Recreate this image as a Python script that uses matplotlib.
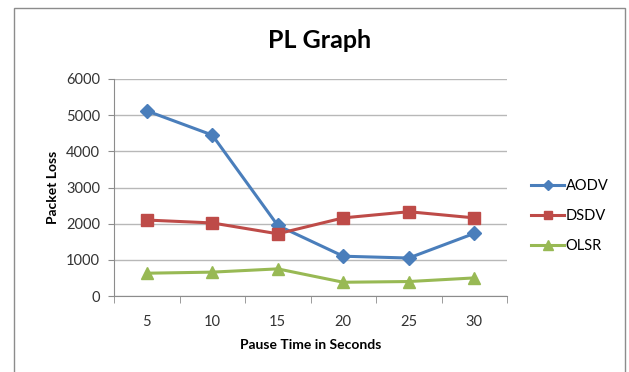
import numpy as np
import matplotlib
matplotlib.use("Agg")
import matplotlib.pyplot as plt
from matplotlib.patches import Rectangle

plt.rcParams["font.family"] = ["Lato", "DejaVu Sans"]

pause_times = [5, 10, 15, 20, 25, 30]
aodv = [5120, 4450, 1950, 1100, 1050, 1730]
dsdv = [2100, 2020, 1720, 2160, 2330, 2160]
olsr = [630, 660, 750, 380, 400, 500]
y_ticks = [0, 1000, 2000, 3000, 4000, 5000, 6000]

fig = plt.figure(figsize=(6.29, 3.72), dpi=100)
fig.patch.set_facecolor("white")
# outer chart frame
fig.add_artist(Rectangle((14 / 629, -0.05), (625 - 14) / 629, 1.05 - 8 / 372,
                         transform=fig.transFigure, fill=False,
                         edgecolor="#8c8c8c", linewidth=1.0))

ax = fig.add_axes([114 / 629, 1 - 296 / 372, (507 - 114) / 629, (296 - 79) / 372])
x = np.arange(len(pause_times))

series = [
    ("AODV", aodv, "#4a7ebb", "D", 7),
    ("DSDV", dsdv, "#be4b48", "s", 8),
    ("OLSR", olsr, "#98b954", "^", 9),
]
for name, vals, color, marker, ms in series:
    ax.plot(x, vals, color=color, linewidth=2.2, marker=marker, markersize=ms,
            markeredgecolor=color, label=name, zorder=3)

ax.set_xlim(-0.5, len(pause_times) - 0.5)
ax.set_ylim(0, 6000)
ax.set_yticks(y_ticks)
ax.set_yticklabels([str(v) for v in y_ticks], fontsize=10.5, color="#333333")
ax.set_xticks(x)
ax.set_xticklabels([str(p) for p in pause_times], fontsize=10.5, color="#333333")
ax.set_xticks(np.arange(-0.5, len(pause_times)), minor=True)
ax.tick_params(axis="x", which="major", length=0, pad=14)
ax.tick_params(axis="x", which="minor", length=5, color="#8c8c8c", direction="out")
ax.tick_params(axis="y", length=4, color="#8c8c8c", direction="out", pad=6)
ax.grid(axis="y", color="#b8b8b8", linewidth=1.0)
ax.set_axisbelow(True)
for s in ["top", "right"]:
    ax.spines[s].set_visible(False)
for s in ["left", "bottom"]:
    ax.spines[s].set_color("#8c8c8c")

ax.set_ylabel("Packet Loss", fontsize=10, fontweight="bold", labelpad=5)
ax.set_xlabel("Pause Time in Seconds", fontsize=10, fontweight="bold", labelpad=7)
fig.text(320 / 629, 1 - 40 / 372, "PL Graph", ha="center", va="center",
         fontsize=18, fontweight="bold")

fig.legend(loc="center left", bbox_to_anchor=(525 / 629, 1 - 216 / 372),
           frameon=False, fontsize=10.5, handlelength=2.3, handletextpad=0.1,
           labelspacing=1.1, borderaxespad=0, markerscale=0.75)

fig.savefig("out.png", dpi=100, facecolor="white")
